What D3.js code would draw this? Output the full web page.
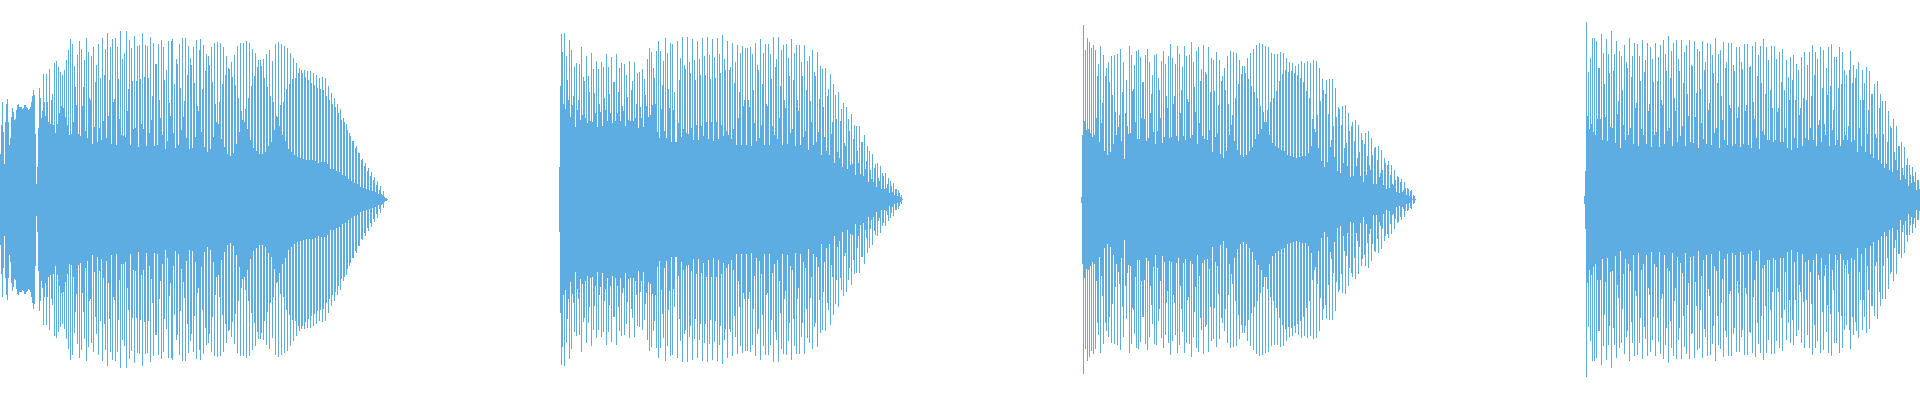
<!DOCTYPE html>
<meta charset="utf-8">
<style>
body { margin: 0; background: #fff; }
.bar { fill: #5dade2; shape-rendering: crispEdges; }
</style>
<body>
<script src="https://d3js.org/d3.v7.min.js"></script>
<script>

// Peak amplitude of every sample column (one row = 20 columns)
var clip1 = [
45.5,74.5,97.5,68,36,78,95.5,100.5,78,55,62,83,91.5,87.5,79.5,80.5,89.5,94.5,95.5,92.5,
92.5,92.5,90.5,91.5,94.5,94.5,92.5,91.5,89.5,90.5,92.5,97.5,103.5,109.5,104.5,66,16,32.5,71.5,111.5,
101.5,81.5,88.5,125.5,97.5,83.5,125.5,97.5,77.5,130.5,75.5,99.5,105.5,74.5,136.5,66.5,138.5,75.5,132.5,86.5,
127.5,93.5,124.5,92,129.5,82.5,139.5,74.5,149.5,64.5,160.5,65.5,155.5,77.5,133.5,112.5,94.5,144.5,65.5,158.5,
63.5,150.5,93.5,112.5,139.5,68.5,161.5,61.5,147.5,101.5,99.5,143.5,55.5,152.5,72.5,117.5,134.5,57.5,155.5,71.5,
121.5,59.5,161.5,78.5,124.5,150.5,61.5,166.5,83.5,119.5,152.5,55.5,160.5,97.5,100.5,161.5,54.5,152.5,120.5,80.5,
168.5,64.5,140.5,64,146.5,62.5,168.5,88.5,110.5,159.5,54.5,151.5,118.5,70.5,163.5,71.5,118.5,153.5,52.5,154.5,
120.5,75.5,166.5,70.5,122.5,154.5,53.5,153.5,121.5,66.5,162.5,79.5,103.5,156.5,53.5,135.5,135.5,54.5,155.5,99.5,
81.5,159.5,64.5,152.5,119.5,50.5,129.5,58.5,158.5,96.5,83.5,158.5,160.5,66.5,115.5,51.5,140.5,135.5,54.5,155.5,
111.5,69.5,161.5,82.5,98.5,161.5,61.5,124.5,153.5,50.5,141.5,134.5,51.5,152.5,116.5,62.5,159.5,93.5,88.5,150,
160.5,67.5,110.5,154.5,52.5,128.5,145.5,47.5,143.5,134.5,50.5,152.5,117.5,62.5,156.5,95.5,77.5,157.5,75.5,97.5,
156.5,60.5,115.5,152.5,52.5,124.5,143.5,45.5,131.5,130.5,43.5,137.5,122.5,46.5,144.5,114.5,55.5,153.5,101.5,67.5,
156.5,88.5,79.5,156.5,77.5,90.5,158.5,70.5,101.5,156.5,59.5,113.5,150.5,51.5,123.5,146.5,48.5,132.5,139.5,45.5,
139.5,133.5,45.5,140.5,121.5,47.5,145.5,112.5,53.5,149.5,103.5,57.5,138.5,97.5,69.5,155.5,83.5,82.5,157.5,73.5,
94.5,155.5,64.5,97.5,153.5,58.5,110.5,151.5,50.5,115.5,146.5,47.5,120.5,141.5,44.5,121.5,136.5,42.5,126.5,131.5,
41.5,129.5,126.5,40.5,129.5,122.5,39.5,128.5,119.5,39.5,128.5,116.5,39.5,126.5,114.5,38.5,124.5,111.5,36.5,121.5,
110.5,37.5,122.5,109.5,37.5,121.5,103.5,35.5,113.5,99.5,30.5,106.5,95.5,30.5,101.5,92.5,28.5,95.5,86.5,27.5,
90.5,79.5,24.5,81.5,77.5,23.5,75.5,69.5,20.5,66.5,63.5,18.5,58.5,58.5,16.5,51.5,53.5,15.5,46.5,46.5,
12.5,39.5,40.5,11.5,33.5,36.5,10.5,28.5,31.5,9.5,23.5,27.5,8.5,19.5,22.5,7.5,14.5,18.5,5.5,9.5,
13.5,5.5,4.5,8.5,2.5,1.5,1.5,0.5];

var clip2 = [
32.5,113.5,165.5,147.5,95.5,166.5,90.5,143.5,119.5,99.5,159.5,82.5,149.5,94.5,103.5,132.5,72.5,136.5,89.5,99.5,
135.5,79.5,152.5,84.5,122.5,118.5,81.5,143.5,76.5,123.5,107.5,78.5,146.5,77.5,130.5,106.5,86.5,138.5,72.5,130.5,
95.5,87.5,137.5,73.5,132.5,101.5,89.5,145.5,78.5,132.5,105.5,86.5,142.5,76.5,117.5,117.5,78.5,145.5,86.5,107.5,
131.5,78.5,136.5,93.5,88.5,135.5,73.5,124.5,102.5,79.5,138.5,78.5,109.5,118.5,78.5,137.5,81.5,95.5,126.5,71.5,
127.5,92.5,81.5,130.5,72.5,120.5,104.5,93.5,140.5,82.5,151.5,84.5,147.5,94.5,131.5,121.5,95.5,148.5,67.5,158.5,
61.5,148.5,90.5,114.5,138.5,68.5,161.5,61.5,146.5,110.5,91.5,156.5,57.5,155.5,89.5,107.5,57.5,57.5,158.5,76.5,
119.5,141.5,62.5,162.5,70.5,134.5,130.5,66.5,162.5,65.5,137.5,126.5,71.5,160.5,59.5,139.5,119.5,74.5,158.5,59.5,
140.5,124.5,73.5,161.5,63.5,143.5,124.5,77.5,162.5,60.5,144.5,120.5,77.5,160.5,58.5,142.5,121.5,77.5,161.5,60.5,
145.5,126.5,74.5,164.5,63.5,140.5,129.5,68.5,158.5,64.5,129.5,132.5,60.5,156.5,70.5,116.5,
137.5,54.5,154.5,81.5,107.5,146.5,54.5,153.5,93.5,99.5,151.5,54.5,151.5,99.5,92.5,152.5,53.5,145.5,109.5,76.5,
156.5,58.5,134.5,129.5,61.5,160.5,74.5,115.5,146.5,54.5,155.5,95.5,93.5,155.5,54.5,145.5,120.5,73.5,162.5,64.5,
132.5,140.5,60.5,162.5,81.5,113.5,149.5,54.5,154.5,99.5,91.5,155.5,55.5,141.5,123.5,66.5,160.5,70.5,119.5,146.5,
53.5,154.5,99.5,88.5,154.5,54.5,137.5,123.5,62.5,154.5,68.5,109.5,138.5,49.5,143.5,98.5,77.5,149.5,54.5,127.5,
123.5,57.5,147.5,67.5,100.5,133.5,44.5,130.5,92.5,62.5,131.5,48.5,103.5,110.5,44.5,125.5,65.5,77.5,115.5,36.5,
104.5,80.5,47.5,107.5,41.5,78.5,90.5,32.5,96.5,56.5,53.5,92.5,30.5,80.5,68.5,34.5,85.5,35.5,60.5,74.5,
24.5,73.5,48.5,36.5,73.5,25.5,57.5,57.5,23.5,64.5,30.5,38.5,53.5,17.5,48.5,29.5,20.5,45.5,17.5,31.5,
35.5,12.5,36.5,21.5,18.5,33.5,10.5,26.5,23.5,10.5,26.5,11.5,15.5,21.5,6.5,18.5,13.5,7.5,16.5,4.5,
10.5,10.5,3.5,9.5,6.5,2.5,4.5,0.5];

var clip3 = [
3,64.5,174.5,78.5,149.5,69.5,161.5,70.5,157.5,66.5,151.5,62.5,154.5,64.5,149.5,81.5,123.5,135.5,57.5,153.5,
76.5,96.5,144.5,48.5,123.5,131.5,44.5,137.5,117.5,47.5,143.5,104.5,55.5,144.5,87.5,64.5,145.5,72.5,84.5,150.5,
58.5,107.5,137.5,40.5,86.5,119.5,73.5,65.5,153.5,66.5,144.5,108.5,110.5,134.5,77.5,148.5,60.5,149.5,60.5,142.5,
81.5,117.5,117.5,80.5,144.5,58.5,150.5,61.5,137.5,86.5,105.5,124.5,67.5,144.5,55.5,145.5,68.5,121.5,109.5,81.5,
138.5,56.5,148.5,62.5,135.5,103.5,91.5,143.5,61.5,155.5,62.5,141.5,95.5,103.5,135.5,63.5,153.5,58.5,145.5,86.5,
109.5,132.5,63.5,153.5,59.5,143.5,100.5,97.5,144.5,61.5,157.5,64.5,137.5,112.5,87.5,148.5,55.5,152.5,76.5,118.5,
130.5,63.5,154.5,60.5,127.5,125.5,59.5,152.5,69.5,107.5,141.5,47.5,139.5,108.5,62.5,147.5,66.5,94.5,139.5,45.5,
118.5,123.5,41.5,131.5,109.5,48.5,143.5,95.5,64.5,148.5,74.5,84.5,147.5,58.5,101.5,146.5,49.5,115.5,139.5,44.5,
125.5,133.5,42.5,133.5,126.5,44.5,141.5,120.5,48.5,146.5,113.5,52.5,150.5,107.5,60.5,154.5,101.5,65.5,156.5,
93.5,70.5,155.5,87.5,77.5,153.5,77.5,89.5,152.5,64.5,97.5,146.5,56.5,101.5,145.5,53.5,108.5,145.5,51.5,118.5,
147.5,49.5,125.5,146.5,48.5,129.5,141.5,44.5,127.5,137.5,43.5,128.5,136.5,42.5,126.5,133.5,41.5,124.5,135.5,42.5,
121.5,138.5,43.5,117.5,136.5,43.5,108.5,138.5,46.5,101.5,136.5,53.5,80.5,139.5,70.5,67.5,138.5,84.5,51.5,131.5,
98.5,38.5,120.5,109.5,32.5,105.5,119.5,37.5,85.5,120.5,52.5,59.5,120.5,73.5,42.5,111.5,82.5,28.5,92.5,90.5,
26.5,74.5,93.5,36.5,51.5,94.5,56.5,33.5,86.5,68.5,22.5,73.5,77.5,23.5,58.5,79.5,33.5,41.5,74.5,47.5,
23.5,66.5,59.5,17.5,55.5,66.5,24.5,43.5,68.5,34.5,29.5,61.5,44.5,15.5,51.5,52.5,15.5,39.5,53.5,22.5,
26.5,49.5,29.5,14.5,41.5,36.5,10.5,34.5,38.5,11.5,24.5,34.5,15.5,14.5,29.5,19.5,7.5,23.5,22.5,6.5,
17.5,20.5,7.5,9.5,17.5,11.5,4.5,11.5,10.5,3.5,8.5,9.5,0.5,4.5,3.5,0.5];

var clip4 = [
4,29,177.5,83.5,127.5,70.5,141.5,75.5,161.5,67.5,161.5,64.5,158.5,80.5,131.5,131.5,80.5,165.5,59.5,146.5,
115.5,82.5,160.5,58.5,145.5,126.5,72.5,168.5,71.5,128.5,145.5,56.5,158.5,85.5,98.5,148.5,51.5,143.5,109.5,74.5,
154.5,59.5,137.5,131.5,64.5,161.5,71.5,122.5,143.5,55.5,156.5,91.5,96.5,155.5,53.5,143.5,118.5,70.5,159.5,64.5,
127.5,139.5,55.5,156.5,88.5,95.5,152.5,52.5,140.5,117.5,64.5,156.5,67.5,118.5,142.5,52.5,154.5,99.5,94.5,159.5,
55.5,145.5,128.5,68.5,163.5,71.5,121.5,148.5,53.5,156.5,101.5,88.5,159.5,57.5,140.5,128.5,63.5,159.5,73.5,116.5,
147.5,53.5,154.5,105.5,83.5,159.5,57.5,134.5,133.5,56.5,158.5,82.5,106.5,150.5,51.5,148.5,110.5,76.5,158.5,60.5,
129.5,137.5,55.5,156.5,89.5,96.5,155.5,54.5,144.5,126.5,66.5,161.5,71.5,116.5,145.5,51.5,149.5,103.5,79.5,157.5,
59.5,131.5,137.5,54.5,156.5,94.5,91.5,156.5,53.5,134.5,128.5,55.5,152.5,81.5,93,152.5,52.5,137.5,130.5,55.5,
155.5,88.5,94.5,155.5,54.5,132.5,133.5,51.5,153.5,97.5,80.5,157.5,61.5,123.5,144.5,50.5,153.5,116.5,68.5,160.5,
65,106,153,60,140,60,110,154,92,58,154,60,141,88,92,148,58,118,151,58,
110,72,140,52,123,100,143,50,120,145,62,100,136,52,130,85,92,143,54,102,
148,62,100,135,60,148,72,104,155,60,125,148,54,141,75,80,153,58,112,150,
76,65,132,105,153,54,114,156,70,90,143,55,143,60,112,153,54,116,148,60,
130,65,125,60,74,130,149,58,117,135,60,122,131,48,138,72,100,54,130,100,
117,48,133,66,90,129,46,106,106,42,116,66,62,119,40,92,106,36,99,66,
32,99,36,58,89,30,74,72,28,81,48,40,74,30,54,54,20,58,32,25,
53,21,35,42,14,35,25,17,33,24,18,28,10,20,20,11];

// First sample column of each clip on the timeline
var clipNames = ["clip1", "clip2", "clip3", "clip4"];
var clipValues = [clip1, clip2, clip3, clip4];
var clipStarts = [0, 559, 1081, 1584];

var width = 1920,
    height = 400;

var x = d3.scaleLinear().domain([0, width]).range([0, width]);
var y = d3.scaleLinear().domain([-200, 200]).range([height - 0.5, -0.5]);

var svg = d3.select("body")
    .append("svg")
        .attr("width", width)
        .attr("height", height)
        .style("display", "block");

clipValues.forEach(function(values, c) {
    svg.append("g")
        .attr("class", clipNames[c])
      .selectAll("rect")
        .data(values)
      .enter().append("rect")
        .attr("class", "bar")
        .attr("x", function(d, i) { return x(clipStarts[c] + i); })
        .attr("width", x(1) - x(0))
        .attr("y", function(d) { return y(d); })
        .attr("height", function(d) { return y(-d) - y(d); });
});

</script>
</body>
